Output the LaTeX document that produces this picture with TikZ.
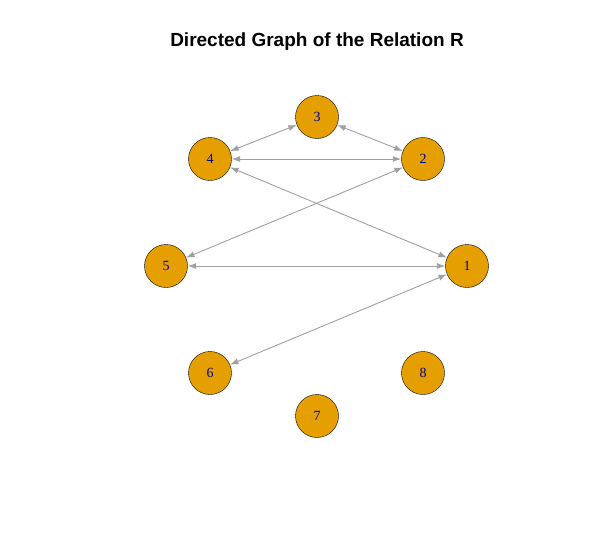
\documentclass[tikz,border=0pt]{standalone}
\usepackage{fontspec}
\setmainfont{Liberation Serif}
\setsansfont{Liberation Sans}
\usetikzlibrary{arrows.meta}

\definecolor{vorange}{HTML}{E69F00}
\definecolor{egray}{HTML}{A0A0A0}
\definecolor{vblue}{HTML}{00008B}

\begin{document}
\begin{tikzpicture}[
  x=1pt, y=-1pt,
  vertex/.style={circle, draw=black, fill=vorange, minimum size=43pt, inner sep=0pt, font=\fontsize{14}{14}\selectfont, text=vblue},
  every path/.style={thin},
  edge/.style={draw=egray, line width=0.9pt, {Latex[length=8.5pt,width=6pt]}-{Latex[length=8.5pt,width=6pt]}},
  title/.style={font=\fontsize{19}{22}\selectfont\sffamily\bfseries, align=center}
]
\useasboundingbox (0,0) rectangle (596,551);
\node[title] (title) at (317,42) {Directed Graph of the Relation R};
\node[vertex] (n3) at (317,117) {3};
\node[vertex] (n4) at (210,159) {4};
\node[vertex] (n2) at (423,159) {2};
\node[vertex] (n5) at (166,266) {5};
\node[vertex] (n1) at (467,266) {1};
\node[vertex] (n6) at (210,373) {6};
\node[vertex] (n8) at (423,373) {8};
\node[vertex] (n7) at (317,416) {7};
\draw[edge] (n4) -- (n3);
\draw[edge] (n3) -- (n2);
\draw[edge] (n4) -- (n2);
\draw[edge] (n4) -- (n1);
\draw[edge] (n5) -- (n2);
\draw[edge] (n5) -- (n1);
\draw[edge] (n6) -- (n1);
\end{tikzpicture}
\end{document}
